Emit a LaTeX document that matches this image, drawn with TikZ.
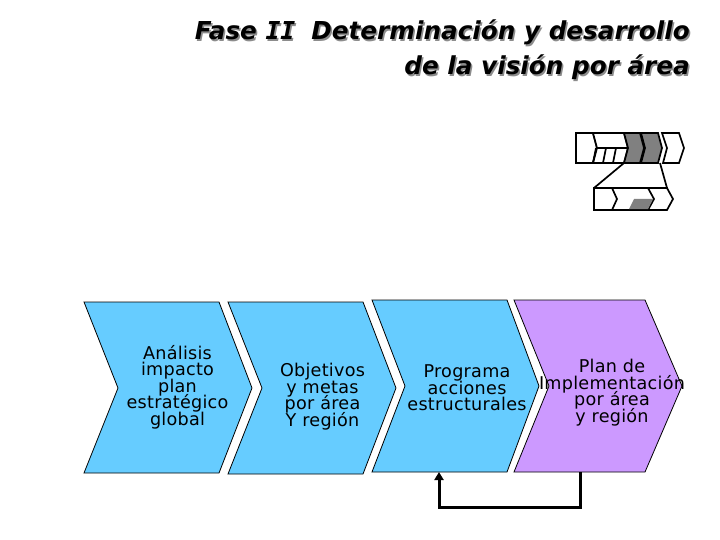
\documentclass[tikz,border=0pt]{standalone}
\usepackage{fontspec}
\setmainfont{DejaVu Sans}
\newfontfamily\testofont[LetterSpace=1.5]{DejaVu Sans}
\newfontfamily\titolofont[BoldFeatures={FakeBold=2.5}]{DejaVu Sans}
\newfontfamily\seriffont[BoldFeatures={FakeBold=2.5}]{DejaVu Sans Mono}
\newcommand{\fasedue}{Fase {\seriffont II}\hspace{0.65em}}
\setlength{\lineskiplimit}{-20pt}
\usetikzlibrary{arrows.meta}
\begin{document}
\begin{tikzpicture}[x=1pt, y=-1pt, >={Triangle[length=8pt,width=9pt]}]
%====Colori===============================================================
	\definecolor{azzurro}{HTML}{66CCFF}
	\definecolor{lilla}{HTML}{CC99FF}
	\definecolor{grigio}{HTML}{808080}
%====Stili===============================================================
	\tikzstyle{fase}=[draw=black, line width=0.8pt, line join=miter]
	\tikzstyle{testo}=[align=center, inner sep=0pt, font=\testofont\fontsize{17.6}{16.5}\selectfont, text=black]
	\tikzstyle{titolo}=[anchor=base east, inner sep=0pt, font=\titolofont\fontsize{24.7}{28}\selectfont\bfseries\itshape]
	\tikzstyle{mini}=[draw=black, line width=1.7pt, line join=miter, fill=white]
	\tikzstyle{ritorno}=[->, draw=black, line width=3pt]
	\useasboundingbox (0,0) rectangle (720,540);
%====Titolo===============================================================
	\node[titolo, text=black!45] (ombra1) at (691.5,41.5) {\fasedue Determinación y desarrollo};
	\node[titolo, text=black!45] (ombra2) at (691.5,76.5) {de la visión por área};
	\node[titolo] (titolo1) at (690,40) {\fasedue Determinación y desarrollo};
	\node[titolo] (titolo2) at (690,75) {de la visión por área};
%====Schema piccolo===============================================================
	\draw[mini] (576,133) -- (593,133) -- (597,148) -- (593,163) -- (576,163) -- cycle;
	\draw[mini] (593,133) -- (624,133) -- (628,148) -- (624,163) -- (593,163) -- (597,148) -- cycle;
	\draw[mini] (597,148) -- (628,148);
	\draw[mini] (596,148) -- (593,163);
	\draw[mini] (606,148) -- (603,163);
	\draw[mini] (616,148) -- (613,163);
	\draw[mini, fill=grigio] (624,133) -- (640,133) -- (644,148) -- (640,163) -- (624,163) -- (628,148) -- cycle;
	\draw[mini, fill=grigio] (641,133) -- (658,133) -- (662,148) -- (658,163) -- (641,163) -- (645,148) -- cycle;
	\draw[mini] (662,133) -- (679,133) -- (684,148) -- (679,163) -- (663,163) -- (667,148) -- cycle;
	\draw[mini] (624,163) -- (594,188);
	\draw[mini] (660,163) -- (667,188);
	\draw[mini] (594,188) -- (667,188) -- (673,199) -- (667,210) -- (594,210) -- cycle;
	\draw[mini] (612,188) -- (617,199) -- (612,210);
	\draw[mini] (648,188) -- (654,199) -- (648,210);
	\draw[draw=none, fill=grigio] (634,199) -- (653,199) -- (648,209.2) -- (629,209.2) -- cycle;
%====Fasi===============================================================
	\draw[fase, fill=azzurro] (84,302) -- (219,302) -- (252,388) -- (219,473) -- (84,473) -- (118,388) -- cycle;
	\draw[fase, fill=azzurro] (228,302) -- (363,302) -- (396,388) -- (363,474) -- (228,474) -- (262,388) -- cycle;
	\draw[fase, fill=azzurro] (372,300) -- (507,300) -- (539,386) -- (507,472) -- (372,472) -- (405,386) -- cycle;
	\draw[fase, fill=lilla] (514,300) -- (645,300) -- (682,386) -- (645,472) -- (514,472) -- (549,386) -- cycle;
%====Testi===============================================================
	\node[testo] (analisis)  at (177.5,387) {Análisis\\impacto\\plan\\estratégico\\global};
	\node[testo] (objetivos) at (322.5,396.5) {Objetivos\\y metas\\por área\\Y región};
	\node[testo] (programa)  at (467,388) {Programa\\acciones\\estructurales};
	\node[testo] (plan)      at (612,392.5) {Plan de\\Implementación\\por área\\y región};
%====Collegamento===============================================================
	\coordinate (da) at (580,472);
	\coordinate (a) at (439,472);
	\draw[ritorno] (da) -- (580,507) -- (439,507) -- (a);
\end{tikzpicture}
\end{document}
